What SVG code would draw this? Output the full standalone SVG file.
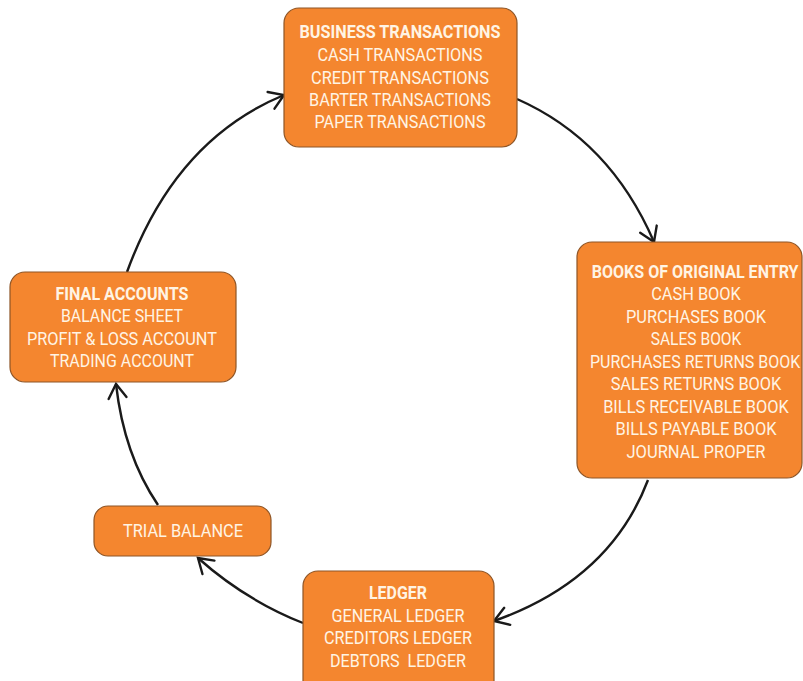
<svg xmlns="http://www.w3.org/2000/svg" width="803" height="681" viewBox="0 0 803 681">
<defs>
<style>
.box{fill:#F4862F;stroke:#8E5526;stroke-width:1.2}
.t{font-family:Roboto,"Liberation Sans",sans-serif;font-size:18px;fill:#FFF4E4;text-anchor:middle}
.b{font-weight:bold}
.c{fill:none;stroke:#1a1a1a;stroke-width:2.4}
</style>
<marker id="ah" markerUnits="userSpaceOnUse" markerWidth="30" markerHeight="30" refX="0" refY="0" viewBox="-20 -15 30 30" orient="auto">
<path d="M-14,-9 L0,0 L-14,9" fill="none" stroke="#1a1a1a" stroke-width="2.4" stroke-linecap="round"/>
</marker>
</defs>
<rect width="803" height="681" fill="#ffffff"/>
<g id="connectors">
<path class="c" d="M517,99 Q610,140 654,242" marker-end="url(#ah)"/>
<path class="c" d="M648,480 Q610,580 494,621" marker-end="url(#ah)"/>
<path class="c" d="M303,623 Q245,600 198,558" marker-end="url(#ah)"/>
<path class="c" d="M158,505 Q124,455 116,384" marker-end="url(#ah)"/>
<path class="c" d="M127,272 Q175,140 284,95" marker-end="url(#ah)"/>
</g>
<g id="business">
<rect class="box" x="284" y="8" width="233" height="139" rx="15"/>
<text class="t b" x="400" y="38" textLength="201" lengthAdjust="spacingAndGlyphs">BUSINESS TRANSACTIONS</text>
<text class="t" x="400" y="61" textLength="165" lengthAdjust="spacingAndGlyphs">CASH TRANSACTIONS</text>
<text class="t" x="400" y="84" textLength="178" lengthAdjust="spacingAndGlyphs">CREDIT TRANSACTIONS</text>
<text class="t" x="400" y="106" textLength="182" lengthAdjust="spacingAndGlyphs">BARTER TRANSACTIONS</text>
<text class="t" x="400" y="128" textLength="171" lengthAdjust="spacingAndGlyphs">PAPER TRANSACTIONS</text>
</g>
<g id="books">
<rect class="box" x="577" y="242" width="225" height="236" rx="15"/>
<g transform="translate(696 0) scale(0.88 1)">
<text class="t b" x="-1" y="278" textLength="235" lengthAdjust="spacingAndGlyphs">BOOKS OF ORIGINAL ENTRY</text>
<text class="t" x="0" y="300.5" textLength="102" lengthAdjust="spacingAndGlyphs">CASH BOOK</text>
<text class="t" x="0" y="323" textLength="159" lengthAdjust="spacingAndGlyphs">PURCHASES BOOK</text>
<text class="t" x="0" y="345.5" textLength="103" lengthAdjust="spacingAndGlyphs">SALES BOOK</text>
<text class="t" x="-1" y="368" textLength="239" lengthAdjust="spacingAndGlyphs">PURCHASES RETURNS BOOK</text>
<text class="t" x="0" y="390.5" textLength="194" lengthAdjust="spacingAndGlyphs">SALES RETURNS BOOK</text>
<text class="t" x="0" y="413" textLength="211" lengthAdjust="spacingAndGlyphs">BILLS RECEIVABLE BOOK</text>
<text class="t" x="0" y="435.5" textLength="183" lengthAdjust="spacingAndGlyphs">BILLS PAYABLE BOOK</text>
<text class="t" x="0" y="458" textLength="158" lengthAdjust="spacingAndGlyphs">JOURNAL PROPER</text>
</g>
</g>
<g id="ledger">
<rect class="box" x="303" y="571" width="191" height="125" rx="15"/>
<text class="t b" x="398" y="599" textLength="58" lengthAdjust="spacingAndGlyphs">LEDGER</text>
<text class="t" x="398" y="621.5" textLength="133" lengthAdjust="spacingAndGlyphs">GENERAL LEDGER</text>
<text class="t" x="398" y="644" textLength="148" lengthAdjust="spacingAndGlyphs">CREDITORS LEDGER</text>
<text class="t" x="398" y="666.5" textLength="136" lengthAdjust="spacingAndGlyphs" xml:space="preserve">DEBTORS  LEDGER</text>
</g>
<g id="trial">
<rect class="box" x="94" y="506" width="177" height="50" rx="14"/>
<text class="t" x="183" y="537" textLength="120" lengthAdjust="spacingAndGlyphs">TRIAL BALANCE</text>
</g>
<g id="final">
<rect class="box" x="10" y="272" width="226" height="110" rx="15"/>
<text class="t b" x="122" y="300" textLength="133" lengthAdjust="spacingAndGlyphs">FINAL ACCOUNTS</text>
<text class="t" x="122" y="322" textLength="122" lengthAdjust="spacingAndGlyphs">BALANCE SHEET</text>
<text class="t" x="122" y="345" textLength="190" lengthAdjust="spacingAndGlyphs">PROFIT &amp; LOSS ACCOUNT</text>
<text class="t" x="122" y="367" textLength="144" lengthAdjust="spacingAndGlyphs">TRADING ACCOUNT</text>
</g>
</svg>
